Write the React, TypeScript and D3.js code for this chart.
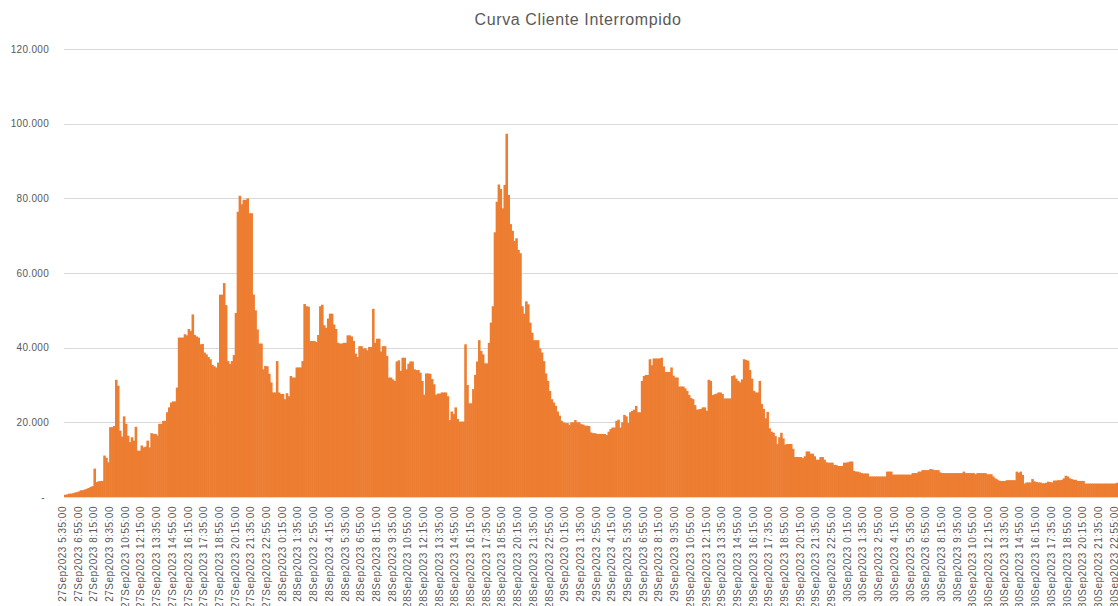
import React, { useEffect, useRef } from 'react'
import * as d3 from 'd3'

// clientes interrompidos (em milhares), um valor a cada 10 minutos a partir de 27Sep2023 5:35
const clientesMil: number[] = [
  0.6, 0.7, 0.9, 0.9, 1.0, 1.2, 1.3, 1.5, 1.8, 1.8,
  2.0, 2.2, 2.4, 2.7, 2.9, 7.6, 4.0, 4.2, 4.3, 4.3,
  11.1, 10.5, 9.3, 18.7, 18.7, 19.0, 31.4, 29.8, 17.8, 16.2,
  21.6, 19.6, 16.4, 14.7, 16.0, 15.1, 18.8, 12.4, 12.4, 13.8,
  13.3, 13.5, 15.1, 13.3, 17.1, 16.9, 16.9, 16.5, 19.6, 19.6,
  20.4, 20.4, 22.7, 24.0, 25.3, 25.6, 25.6, 29.3, 42.7, 42.7,
  42.7, 43.6, 43.3, 45.0, 44.5, 48.9, 43.4, 43.0, 42.7, 40.9,
  41.0, 38.7, 38.2, 37.5, 36.9, 35.4, 35.0, 34.7, 36.0, 54.2,
  54.2, 57.3, 51.4, 36.4, 35.6, 36.4, 38.0, 49.3, 76.4, 80.7,
  78.4, 79.6, 79.6, 80.0, 76.0, 76.0, 54.2, 50.0, 44.9, 41.1,
  41.1, 34.2, 35.1, 35.0, 33.0, 30.7, 28.0, 28.0, 36.4, 28.0,
  27.6, 27.6, 26.2, 27.8, 27.0, 32.4, 32.0, 32.0, 34.7, 34.7,
  34.7, 36.4, 51.7, 51.1, 51.0, 41.8, 41.8, 41.8, 41.5, 43.4,
  51.1, 51.5, 46.0, 45.3, 47.8, 49.1, 49.1, 46.2, 45.0, 41.3,
  41.1, 41.1, 41.3, 41.3, 43.3, 43.3, 43.0, 41.8, 38.4, 37.5,
  40.4, 40.4, 39.8, 39.8, 39.3, 40.2, 40.2, 50.4, 41.3, 42.4,
  42.4, 39.0, 40.4, 40.4, 37.8, 32.0, 32.0, 31.5, 31.1, 36.3,
  36.6, 33.8, 37.3, 37.3, 34.2, 35.7, 36.3, 36.3, 34.2, 34.0,
  34.0, 33.3, 31.1, 27.4, 33.1, 33.1, 33.0, 31.6, 30.2, 27.4,
  27.7, 27.7, 28.0, 28.0, 28.0, 27.0, 20.6, 22.9, 22.2, 24.0,
  20.9, 20.2, 20.2, 20.2, 40.9, 30.0, 25.1, 25.1, 28.9, 32.7,
  36.3, 42.0, 39.1, 38.2, 35.8, 35.8, 41.3, 46.7, 51.1, 70.9,
  79.1, 83.7, 82.5, 77.3, 83.6, 97.3, 80.9, 73.1, 71.3, 68.6,
  69.3, 66.2, 65.3, 51.1, 49.1, 52.4, 51.6, 46.7, 44.0, 42.0,
  42.0, 42.0, 39.8, 38.7, 36.4, 33.1, 31.1, 28.4, 26.2, 25.3,
  24.4, 22.9, 21.8, 20.4, 20.0, 19.8, 19.8, 19.3, 20.0, 20.0,
  20.6, 20.0, 20.0, 19.5, 19.4, 19.1, 19.1, 19.0, 17.3, 17.1,
  17.1, 16.9, 16.9, 16.9, 16.9, 16.9, 16.6, 17.5, 18.2, 18.6,
  18.6, 20.4, 20.7, 18.6, 20.0, 22.0, 21.6, 19.8, 22.7, 23.1,
  23.4, 24.4, 22.7, 22.7, 31.1, 32.4, 32.7, 32.7, 36.9, 35.3,
  37.1, 37.1, 37.1, 37.1, 37.3, 35.0, 33.5, 33.5, 33.5, 34.7,
  32.5, 32.0, 32.0, 29.6, 29.6, 29.6, 29.1, 28.4, 27.3, 26.5,
  26.2, 24.6, 23.4, 23.5, 23.6, 24.0, 24.0, 23.1, 31.4, 31.1,
  27.3, 27.5, 27.7, 28.0, 28.0, 27.6, 26.4, 26.4, 26.4, 26.4,
  32.4, 32.6, 31.7, 31.1, 30.7, 31.5, 36.9, 36.7, 36.5, 34.0,
  31.7, 28.4, 28.0, 28.0, 31.1, 24.9, 23.6, 21.1, 22.8, 18.4,
  17.5, 17.2, 16.3, 14.2, 16.0, 17.2, 15.7, 14.0, 14.2, 14.2,
  14.2, 12.9, 10.7, 10.7, 10.7, 10.7, 10.4, 10.9, 12.2, 12.2,
  11.6, 11.6, 10.9, 10.0, 10.0, 10.7, 10.7, 10.0, 9.3, 9.2,
  9.2, 9.2, 8.6, 8.6, 8.3, 8.3, 8.3, 9.2, 9.2, 9.3,
  9.5, 9.5, 7.0, 6.8, 6.8, 6.6, 6.4, 6.3, 6.3, 6.3,
  5.5, 5.5, 5.5, 5.5, 5.5, 5.5, 5.5, 5.5, 5.5, 6.8,
  6.8, 6.8, 6.0, 6.0, 6.0, 6.0, 6.0, 6.0, 6.0, 6.0,
  6.0, 6.0, 6.4, 6.4, 6.4, 6.8, 6.8, 7.2, 7.2, 7.2,
  7.2, 7.5, 7.4, 7.2, 7.2, 7.2, 6.6, 6.4, 6.4, 6.4,
  6.4, 6.4, 6.4, 6.4, 6.4, 6.4, 6.4, 6.4, 6.8, 6.4,
  6.4, 6.4, 6.4, 6.4, 6.1, 6.4, 6.4, 6.4, 6.4, 6.4,
  6.1, 6.1, 6.1, 5.5, 5.0, 4.7, 4.4, 4.3, 4.3, 4.3,
  4.5, 4.5, 4.5, 4.5, 4.5, 6.8, 6.5, 6.8, 5.9, 3.6,
  3.9, 3.9, 3.9, 4.8, 4.2, 4.0, 3.9, 3.9, 3.7, 3.7,
  3.8, 4.1, 4.0, 3.9, 4.4, 4.4, 4.5, 4.5, 4.6, 5.0,
  5.7, 5.5, 5.0, 4.8, 4.6, 4.6, 4.3, 4.3, 4.3, 4.3,
  3.6, 3.6, 3.6, 3.6, 3.6, 3.6, 3.6, 3.6, 3.6, 3.6,
  3.6, 3.6, 3.6, 3.6, 3.6, 3.6, 3.8, 3.7, 3.7, 3.7,
  3.7, 3.7, 3.7
]

const inicio = Date.UTC(2023, 8, 27, 5, 35)
const passoMin = 10
const horarios: Date[] = clientesMil.map((_, i) => new Date(inicio + i * passoMin * 60000))
const yTicks = [0, 20, 40, 60, 80, 100, 120]
const titulo = 'Curva Cliente Interrompido'

const W = 1118
const H = 606
const margin = { left: 64, top: 49, bottom: 497 }
const larguraBarra = 1.962

const fmtBR = d3.formatLocale({ decimal: ',', thousands: '.', grouping: [3], currency: ['R$', ''] }).format(',d')
const fmtHora = d3.utcFormat('%d%b%Y %-H:%M:%S')

const App = () => {
  const ref = useRef<SVGSVGElement>(null)

  useEffect(() => {
    const svg = d3.select(ref.current)
    svg.selectAll('*').remove()

    const x = d3
      .scaleBand<number>()
      .domain(d3.range(horarios.length))
      .range([margin.left, margin.left + horarios.length * larguraBarra])
      .padding(0)

    const y = d3.scaleLinear().domain([0, 120]).range([margin.bottom, margin.top])

    // grade
    svg
      .append('g')
      .selectAll('line')
      .data(yTicks.filter(d => d > 0))
      .join('line')
      .attr('x1', margin.left)
      .attr('x2', W)
      .attr('y1', d => Math.round(y(d)) + 0.5)
      .attr('y2', d => Math.round(y(d)) + 0.5)
      .attr('stroke', '#d9d9d9')
      .attr('stroke-width', 1)

    // barras
    svg
      .append('g')
      .selectAll('rect')
      .data(clientesMil)
      .join('rect')
      .attr('x', (d, i) => x(i)!)
      .attr('y', d => y(d))
      .attr('width', x.bandwidth() + 0.6)
      .attr('height', d => y(0) - y(d))
      .attr('fill', '#ED7D31')

    // linha do eixo
    svg
      .append('line')
      .attr('x1', margin.left)
      .attr('x2', W)
      .attr('y1', Math.round(y(0)) + 0.5)
      .attr('y2', Math.round(y(0)) + 0.5)
      .attr('stroke', '#d9d9d9')

    // rótulos y
    svg
      .append('g')
      .selectAll('text')
      .data(yTicks)
      .join('text')
      .attr('x', d => (d === 0 ? 45 : 49))
      .attr('y', d => y(d))
      .attr('dy', '0.35em')
      .attr('text-anchor', 'end')
      .attr('font-family', 'Liberation Sans, Arial, sans-serif')
      .attr('font-size', 10)
      .attr('letter-spacing', 0.3)
      .attr('fill', '#595959')
      .text(d => (d === 0 ? '-' : fmtBR(d * 1000)))

    // rótulos x (a cada 80 min)
    const idxRotulos = d3.range(0, horarios.length, 8)
    svg
      .append('g')
      .selectAll('text')
      .data(idxRotulos)
      .join('text')
      .attr('transform', i => `translate(${x(i)! + x.bandwidth() / 2 - 2.5},506) rotate(-90)`)
      .attr('dy', '0.35em')
      .attr('text-anchor', 'end')
      .attr('font-family', 'Liberation Sans, Arial, sans-serif')
      .attr('font-size', 10)
      .attr('letter-spacing', 0.5)
      .attr('fill', '#595959')
      .text(i => fmtHora(horarios[i]))

    // título
    svg
      .append('text')
      .attr('x', 578)
      .attr('y', 25)
      .attr('text-anchor', 'middle')
      .attr('font-family', 'Liberation Sans, Arial, sans-serif')
      .attr('font-size', 16)
      .attr('letter-spacing', 0.6)
      .attr('fill', '#595959')
      .text(titulo)
  }, [])

  return (
    <svg
      ref={ref}
      width={W}
      height={H}
      style={{ position: 'absolute', left: 0, top: 0, background: '#fff', overflow: 'hidden' }}
    />
  )
}

export default App
